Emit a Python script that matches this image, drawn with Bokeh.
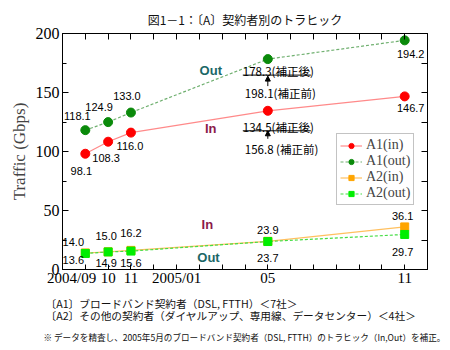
from bokeh.plotting import figure
from bokeh.models import (FixedTicker, LinearAxis, Label, Legend, LegendItem,
                          Arrow, NormalHead, Range1d, Title)
from bokeh.embed import file_html
from bokeh.resources import INLINE

# ---------------- data ----------------
months = [0, 1, 2, 8, 14]                       # months since 2004/09
x_tick_pos = [-0.6, 1, 2, 4, 8, 14]             # first label is set left of its tick, as in the source
x_tick_labels = ["2004/09", "10", "11", "2005/01", "05", "11"]
y_ticks = [0, 50, 100, 150, 200]

a1_in = [98.1, 108.3, 116.0, 134.5, 146.7]
a1_out = [118.1, 124.9, 133.0, 178.3, 194.2]
a2_in = [14.0, 15.0, 16.2, 23.9, 36.1]
a2_out = [13.6, 14.9, 15.6, 23.7, 29.7]
a1_in_before = 156.8
a1_out_before = 198.1

title_text = "図1－1：〔A〕契約者別のトラヒック"
notes = ["〔A1〕ブロードバンド契約者（DSL, FTTH）＜7社＞",
         "〔A2〕その他の契約者（ダイヤルアップ、専用線、データセンター）＜4社＞"]
note3 = "※  データを精査し、2005年5月のブロードバンド契約者（DSL, FTTH）のトラヒック（In,Out）を補正。"

# value-label pixel offsets (dx, dy downward) per point
off_a1_in = [(-4, 17), (-2, 16), (-1, 13), None, (6, 12)]
off_a1_out = [(-8, -14), (-9, -15), (-4, -17), None, (6, 14)]
off_a2_in = [(-12, -11), (-2, -16), (0, -17), (0, -11), (-2, -11)]
off_a2_out = [(-12, 7), (-2, 11), (0, 12), (0, 16), (-2, 18)]

SERIF = "Liberation Serif"
SANS = "Liberation Sans"
CJK = "Noto Sans CJK JP"

FRAME_H = 236
PX_X = 22.8          # px per month
PX_Y = FRAME_H / 200  # px per Gbps

p = figure(width=450, height=350, x_range=Range1d(-1, 15), y_range=Range1d(0, 200),
           output_backend="svg", toolbar_location=None,
           min_border_left=62, min_border_right=23, min_border_top=33, min_border_bottom=81)
p.xgrid.visible = False
p.ygrid.visible = False
p.outline_line_color = "black"
p.outline_line_width = 1
p.background_fill_color = "white"
p.border_fill_color = "white"

p.title.text = title_text
p.title.align = "center"
p.title.text_font = CJK
p.title.text_font_size = "12px"
p.title.text_font_style = "normal"
p.title.text_color = "#111111"
p.title.standoff = 12

# bottom axis: labels only on major ticks (no major tick marks); all month ticks drawn as minor
xa = p.xaxis[0]
xa.ticker = FixedTicker(ticks=x_tick_pos, minor_ticks=list(range(0, 15)))
xa.major_label_overrides = {t: l for t, l in zip(x_tick_pos, x_tick_labels)}
xa.major_label_text_font = SERIF
xa.major_label_text_font_size = "15px"
xa.major_label_text_color = "black"
xa.major_label_standoff = 0
xa.major_tick_in = 0
xa.major_tick_out = 0
xa.minor_tick_in = 5
xa.minor_tick_out = 0
xa.axis_line_color = "black"

# left axis
ya = p.yaxis[0]
ya.ticker = FixedTicker(ticks=y_ticks, minor_ticks=[25, 75, 125, 175])
ya.major_label_text_font = SERIF
ya.major_label_text_font_size = "16px"
ya.major_label_text_color = "black"
ya.major_label_standoff = 3
ya.major_tick_in = 6
ya.major_tick_out = 0
ya.minor_tick_in = 4
ya.minor_tick_out = 0
ya.axis_label = "Traffic (Gbps)"
ya.axis_label_text_font = SERIF
ya.axis_label_text_font_size = "17px"
ya.axis_label_text_font_style = "normal"
ya.axis_label_standoff = 4

# right & top axes (ticks only)
ra = LinearAxis(ticker=FixedTicker(ticks=list(range(0, 201, 25))),
                major_label_text_font_size="0px", major_tick_in=6, major_tick_out=0,
                minor_tick_line_color=None, major_label_standoff=0)
p.add_layout(ra, "right")
ta = LinearAxis(ticker=FixedTicker(ticks=list(range(0, 15))),
                major_label_text_font_size="0px", major_tick_in=6, major_tick_out=0,
                minor_tick_line_color=None, major_label_standoff=0)
p.add_layout(ta, "above")

# footnotes as titles below the axis
p.add_layout(Title(text=notes[0] + "\n" + notes[1], align="left", offset=-17, standoff=12,
                   text_font=CJK, text_font_size="10.7px", text_font_style="normal",
                   text_line_height=0.75, text_color="#111111"), "below")
p.add_layout(Title(text=note3, align="left", offset=-19, standoff=1,
                   text_font=CJK, text_font_size="8.6px", text_font_style="normal",
                   text_color="#111111"), "below")

# series
series = [
    ("A1(in)", a1_in, "#ff8a8a", "solid", "circle", "#ff0000", 9),
    ("A1(out)", a1_out, "#70b070", "3 2", "circle", "#0a8a0a", 9),
    ("A2(in)", a2_in, "#ffc060", "solid", "square", "#ffa500", 8),
    ("A2(out)", a2_out, "#44dd44", "3 2", "square", "#00ee00", 8),
]
items = []
for name, ys, lc, dash, marker, mc, sz in series:
    lr = p.line(months, ys, line_color=lc, line_width=1.2, line_dash=dash)
    sr = p.scatter(months, ys, marker=marker, size=sz, fill_color=mc, line_color=mc)
    items.append(LegendItem(label=name, renderers=[lr, sr]))

legend = Legend(items=items, location=(274, 64), orientation="vertical",
                label_text_font=SERIF, label_text_font_size="14px",
                label_height=13, glyph_height=13, glyph_width=22, spacing=0,
                padding=3, margin=0, label_standoff=4,
                border_line_color="#888888", border_line_width=1,
                background_fill_color="white", background_fill_alpha=1)
p.add_layout(legend)

# value labels
def vlabels(ys, offs):
    for m, v, o in zip(months, ys, offs):
        if o is None:
            continue
        p.add_layout(Label(x=m, y=v, text=f"{v:.1f}", x_offset=o[0], y_offset=-o[1],
                           text_align="center", text_baseline="middle",
                           text_font=SANS, text_font_size="11px", text_color="black"))

vlabels(a1_in, off_a1_in)
vlabels(a1_out, off_a1_out)
vlabels(a2_in, off_a2_in)
vlabels(a2_out, off_a2_out)

# In / Out labels
def tag(x, y, t, c):
    p.add_layout(Label(x=x, y=y, text=t, text_align="center", text_baseline="middle",
                       text_font=SANS, text_font_size="13px", text_font_style="bold",
                       text_color=c))

TEAL = "#1b6767"
MAROON = "#8b1a4a"
tag(5.5, 168.5, "Out", TEAL)
tag(5.5, 119.5, "In", MAROON)
tag(5.35, 38, "In", MAROON)
tag(5.4, 10, "Out", TEAL)

# correction annotations at 2005/05
def corr(val, txt_after, txt_before, dy_after, dy_before, dy_line, arrow_from, arrow_to):
    p.add_layout(Label(x=months[3], y=val, text=txt_after, x_offset=-25, y_offset=-dy_after,
                       text_align="left", text_baseline="middle",
                       text_font=CJK, text_font_size="11.5px", text_color="black"))
    p.add_layout(Label(x=months[3], y=val, text=txt_before, x_offset=-23, y_offset=-dy_before,
                       text_align="left", text_baseline="middle",
                       text_font=CJK, text_font_size="11.5px", text_color="black"))
    yl = val - dy_line / PX_Y
    p.add_layout(Arrow(x_start=months[3] - 25 / PX_X, x_end=months[3] + 43 / PX_X,
                       y_start=yl, y_end=yl, start=None, end=None,
                       line_color="black", line_width=1))
    p.add_layout(Arrow(x_start=months[3], x_end=months[3],
                       y_start=val - arrow_from / PX_Y, y_end=val - arrow_to / PX_Y,
                       end=NormalHead(size=5, fill_color="black", line_color="black"),
                       line_color="black", line_width=1))

corr(a1_out[3], f"{a1_out[3]:.1f}(補正後)", f"{a1_out_before:.1f}(補正前)",
     12, 34, 16, 27, 17)
corr(a1_in[3], f"{a1_in[3]:.1f}(補正後)", f"{a1_in_before:.1f} (補正前)",
     16, 38, 20, 28, 20)

open("out.html", "w").write(file_html(p, INLINE))
